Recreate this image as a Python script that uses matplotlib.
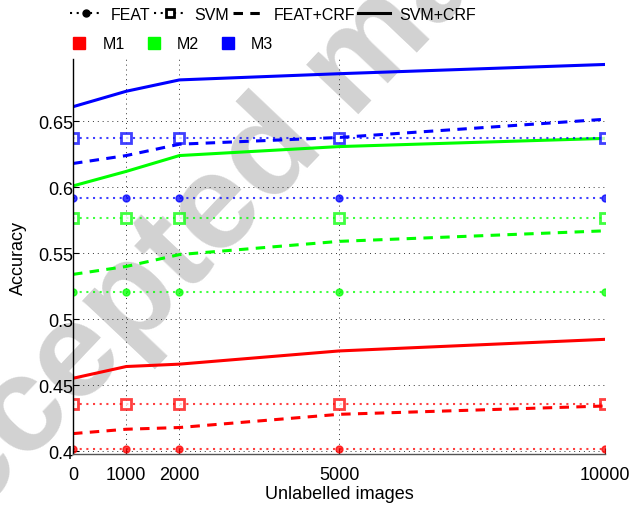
import numpy as np
import matplotlib
matplotlib.use("Agg")
import matplotlib.pyplot as plt
from matplotlib.lines import Line2D

plt.rcParams['font.family'] = ['Liberation Sans', 'DejaVu Sans']
plt.rcParams['font.size'] = 13

# unlabelled images used
unlabelled = [0, 1000, 2000, 5000, 10000]

# accuracies
m1_feat = [0.4015, 0.4015, 0.4015, 0.4015, 0.4015]
m1_svm = [0.4356, 0.4356, 0.4356, 0.4356, 0.4356]
m1_feat_crf = [0.4134, 0.4167, 0.418, 0.428, 0.4343]
m1_svm_crf = [0.4553, 0.4642, 0.466, 0.476, 0.4848]

m2_feat = [0.521, 0.521, 0.521, 0.521, 0.521]
m2_svm = [0.577, 0.577, 0.577, 0.577, 0.577]
m2_feat_crf = [0.534, 0.540, 0.549, 0.559, 0.567]
m2_svm_crf = [0.601, 0.612, 0.624, 0.6308, 0.637]

m3_feat = [0.592, 0.592, 0.592, 0.592, 0.592]
m3_svm = [0.637, 0.637, 0.637, 0.637, 0.637]
m3_feat_crf = [0.618, 0.624, 0.6326, 0.6377, 0.6515]
m3_svm_crf = [0.661, 0.6727, 0.6813, 0.686, 0.693]

methods = ["M1", "M2", "M3"]
colors = {"M1": "#ff0000", "M2": "#00ff00", "M3": "#0000ff"}
series = {
    "M1": (m1_feat, m1_svm, m1_feat_crf, m1_svm_crf),
    "M2": (m2_feat, m2_svm, m2_feat_crf, m2_svm_crf),
    "M3": (m3_feat, m3_svm, m3_feat_crf, m3_svm_crf),
}

dotted = (0, (1, 2.2))
dashed = (0, (3.1, 2.4))

fig = plt.figure(figsize=(6.35, 5.10), dpi=100)
ax = fig.add_axes([0.115, 0.108, 0.838, 0.774])
ax.patch.set_facecolor("none")

# watermark (partly off the page, like the original)
fig.text(0.56, 0.87, "Accepted manuscript", fontsize=98, fontweight="bold",
         color="#d2d2d2", rotation=46.5, rotation_mode="anchor",
         ha="center", va="center", zorder=-1)

for m in methods:
    c = colors[m]
    feat, svm, feat_crf, svm_crf = series[m]
    ax.plot(unlabelled, feat, linestyle=dotted, lw=1.5, color=c, alpha=0.75,
            marker="o", ms=5, mec=c, mfc=c)
    ax.plot(unlabelled, svm, linestyle=dotted, lw=1.5, color=c, alpha=0.75,
            marker="s", ms=6.5, mew=2, mec=c, mfc="white")
    ax.plot(unlabelled, feat_crf, linestyle=dashed, lw=2.2, color=c)
    ax.plot(unlabelled, svm_crf, linestyle="-", lw=2.2, color=c)

ax.set_xlim(0, 10000)
ax.set_ylim(0.398, 0.697)
ax.set_xticks(unlabelled)
ax.set_xticklabels([str(v) for v in unlabelled])
ax.set_yticks([0.4, 0.45, 0.5, 0.55, 0.6, 0.65])
ax.set_yticklabels(["0.4", "0.45", "0.5", "0.55", "0.6", "0.65"])
ax.grid(True, linestyle=(0, (1, 4)), color="#333333", lw=0.7)
ax.tick_params(direction="in", length=4, width=0.8, pad=0)
ax.tick_params(axis="x", pad=9)
for s in ["top", "right"]:
    ax.spines[s].set_visible(False)
ax.spines["left"].set_linewidth(1.0)
ax.spines["bottom"].set_linewidth(1.0)
ax.spines["bottom"].set_color("#555555")
ax.set_xlabel("Unlabelled images", labelpad=1)
ax.set_ylabel("Accuracy", labelpad=8)

# legend for line styles
style_handles = [
    Line2D([], [], color="black", linestyle=dotted, lw=1.5, marker="o", ms=5),
    Line2D([], [], color="black", linestyle=dotted, lw=1.5, marker="s", ms=6, mew=2, mfc="white"),
    Line2D([], [], color="black", linestyle=dashed, lw=2.2),
    Line2D([], [], color="black", linestyle="-", lw=2.2),
]
fig.legend(style_handles, ["FEAT", "SVM", "FEAT+CRF", "SVM+CRF"], ncol=4,
           loc="center", bbox_to_anchor=(0.43, 0.97), frameon=False,
           fontsize=11.5, handlelength=2.0, handletextpad=0.55, columnspacing=0.2,
           borderaxespad=0, borderpad=0)

# legend for methods
color_handles = [Line2D([], [], linestyle="none", marker="s", ms=9, color=colors[m]) for m in methods]
fig.legend(color_handles, methods, ncol=3, loc="center",
           bbox_to_anchor=(0.27, 0.912), frameon=False,
           fontsize=11.5, handlelength=1.2, handletextpad=0.85, columnspacing=1.2,
           borderaxespad=0, borderpad=0)

fig.savefig("out.png", dpi=100)
